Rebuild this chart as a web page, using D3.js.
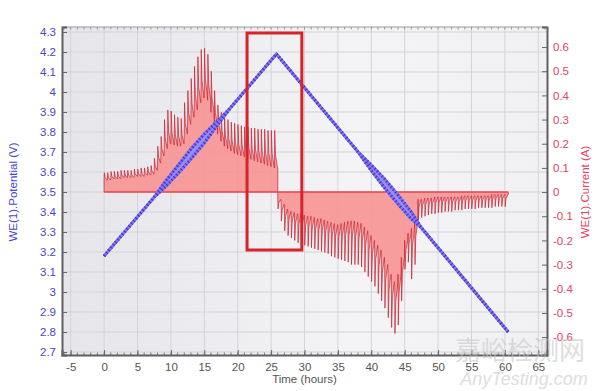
<!DOCTYPE html>
<html>
<head>
<meta charset="utf-8">
<script src="https://cdn.jsdelivr.net/npm/d3@7"></script>
<style>
  body { margin: 0; background: #fff; }
  svg { display: block; font-family: "Liberation Sans", Arial, sans-serif; }
</style>
</head>
<body>
<div></div>
<script>
// tick labels
var xTicks = [-5, 0, 5, 10, 15, 20, 25, 30, 35, 40, 45, 50, 55, 60, 65];
var leftTicks = [2.7, 2.8, 2.9, 3, 3.1, 3.2, 3.3, 3.4, 3.5, 3.6, 3.7, 3.8, 3.9, 4, 4.1, 4.2, 4.3];
var rightTicks = [-0.6, -0.5, -0.4, -0.3, -0.2, -0.1, 0, 0.1, 0.2, 0.3, 0.4, 0.5, 0.6];

// potential (V): upper / lower edge of the trace
var vTime  = [0, 7.5, 9, 11, 13, 15, 17, 19, 25.8, 38, 40, 42, 44, 46, 47.5, 60.5];
var vUpper = [3.18, 3.474, 3.545, 3.63, 3.715, 3.79, 3.856, 3.924, 4.19, 3.701, 3.635, 3.565, 3.485, 3.40, 3.321, 2.80];
var vLower = [3.18, 3.474, 3.52, 3.59, 3.665, 3.745, 3.836, 3.924, 4.19, 3.701, 3.607, 3.52, 3.44, 3.365, 3.321, 2.80];

// current (A): one pulse every half hour, base level and spike level
var chargeTimes = d3.range(0, 26, 0.5);
var chargeBase = [
  0.05, 0.05, 0.055, 0.055, 0.055, 0.06, 0.06, 0.06, 0.06, 0.065,
  0.065, 0.065, 0.07, 0.07, 0.075, 0.09, 0.12, 0.15, 0.18, 0.20,
  0.20, 0.195, 0.19, 0.20, 0.24, 0.28, 0.31, 0.34, 0.37, 0.39,
  0.40, 0.38, 0.33, 0.28, 0.24, 0.21, 0.19, 0.18, 0.17, 0.16,
  0.155, 0.15, 0.145, 0.14, 0.135, 0.13, 0.125, 0.12, 0.115, 0.11,
  0.105, 0.10];
var chargePeak = [
  0.08, 0.08, 0.085, 0.085, 0.085, 0.09, 0.09, 0.09, 0.09, 0.095,
  0.095, 0.10, 0.10, 0.105, 0.11, 0.14, 0.19, 0.23, 0.30, 0.34,
  0.335, 0.32, 0.31, 0.305, 0.37, 0.42, 0.47, 0.52, 0.56, 0.59,
  0.595, 0.57, 0.50, 0.42, 0.36, 0.33, 0.31, 0.30, 0.29, 0.285,
  0.28, 0.275, 0.27, 0.27, 0.265, 0.265, 0.26, 0.26, 0.26, 0.255,
  0.255, 0.255];

var dischargeTimes = d3.range(26, 60.5, 0.5);
var dischargeBase = [
  -0.03, -0.05, -0.07, -0.08, -0.085, -0.09, -0.09, -0.095, -0.10, -0.10,
  -0.105, -0.11, -0.11, -0.115, -0.12, -0.125, -0.13, -0.135, -0.135, -0.13,
  -0.125, -0.12, -0.12, -0.125, -0.13, -0.145, -0.16, -0.18, -0.20, -0.22,
  -0.24, -0.27, -0.30, -0.34, -0.37, -0.38, -0.34, -0.27, -0.20, -0.17,
  -0.15, -0.12, -0.03, -0.03, -0.025, -0.025, -0.025, -0.02, -0.02, -0.02,
  -0.02, -0.02, -0.02, -0.02, -0.02, -0.015, -0.015, -0.015, -0.015, -0.015,
  -0.015, -0.015, -0.015, -0.015, -0.01, -0.01, -0.01, -0.01, -0.01];
var dischargePeak = [
  -0.07, -0.12, -0.16, -0.18, -0.19, -0.20, -0.21, -0.215, -0.22, -0.225,
  -0.23, -0.235, -0.24, -0.245, -0.25, -0.255, -0.265, -0.27, -0.275, -0.28,
  -0.285, -0.29, -0.30, -0.30, -0.30, -0.31, -0.33, -0.35, -0.37, -0.39,
  -0.42, -0.45, -0.48, -0.52, -0.56, -0.585, -0.55, -0.45, -0.32, -0.29,
  -0.36, -0.30, -0.115, -0.105, -0.10, -0.095, -0.09, -0.09, -0.085, -0.085,
  -0.08, -0.08, -0.08, -0.075, -0.075, -0.075, -0.07, -0.07, -0.07, -0.07,
  -0.065, -0.065, -0.065, -0.065, -0.065, -0.06, -0.06, -0.06, -0.06];

// highlighted window (time, potential)
var boxTime = [21.4, 29.6];
var boxPot = [3.21, 4.295];

var margin = {top: 27, right: 53, bottom: 36, left: 62},
    width = 600 - margin.left - margin.right,
    height = 391 - margin.top - margin.bottom;

var x = d3.scaleLinear().domain([-6.3, 66.3]).range([0, width]);
var yL = d3.scaleLinear().domain([2.685, 4.325]).range([height, 0]);
var yR = d3.scaleLinear().domain([-0.674, 0.683]).range([height, 0]);

var root = d3.select("body").select("div").append("svg")
    .attr("width", 600)
    .attr("height", 391);

var defs = root.append("defs");
var grad = defs.append("linearGradient").attr("id", "bg");
grad.append("stop").attr("offset", "0%").attr("stop-color", "#e5e5ea");
grad.append("stop").attr("offset", "60%").attr("stop-color", "#f4f4f6");
grad.append("stop").attr("offset", "100%").attr("stop-color", "#f1f1f4");

var svg = root.append("g")
    .attr("transform", "translate(" + margin.left + "," + margin.top + ")");

// watermark (behind the axis labels)
root.append("text")
    .text("嘉峪检测网")
    .attr("x", 520).attr("y", 360)
    .style("text-anchor", "middle")
    .style("font-family", "Noto Sans CJK SC")
    .style("font-size", "26px")
    .style("fill", "#c4c4c4")
    .style("opacity", 0.55);
root.append("text")
    .text("AnyTesting.com")
    .attr("x", 524).attr("y", 385)
    .style("text-anchor", "middle")
    .style("font-style", "italic")
    .style("font-size", "18px")
    .style("fill", "#c4c4c4")
    .style("opacity", 0.55);

// plot background
svg.append("rect")
    .attr("width", width)
    .attr("height", height)
    .style("fill", "url(#bg)");

// grid
svg.append("g").selectAll("line")
    .data(xTicks)
    .enter().append("line")
    .attr("x1", function(d) { return x(d); })
    .attr("x2", function(d) { return x(d); })
    .attr("y1", 0).attr("y2", height)
    .style("stroke", "#d3d3d9");
svg.append("g").selectAll("line")
    .data(leftTicks)
    .enter().append("line")
    .attr("y1", function(d) { return yL(d); })
    .attr("y2", function(d) { return yL(d); })
    .attr("x1", 0).attr("x2", width)
    .style("stroke", "#d3d3d9");

// current trace
function pulses(times, base, peak, tEnd) {
    var pts = [[times[0], 0]];
    times.forEach(function(t, i) {
        pts.push([t, base[i]]);
        pts.push([t + 0.04, peak[i]]);
        pts.push([t + 0.16, base[i] + (peak[i] - base[i]) * 0.35]);
        pts.push([t + 0.46, base[i]]);
    });
    pts.push([tEnd, base[base.length - 1]]);
    pts.push([tEnd, 0]);
    return pts;
}
var charge = pulses(chargeTimes, chargeBase, chargePeak, 26);
var discharge = pulses(dischargeTimes, dischargeBase, dischargePeak, 60.5);

var currArea = d3.area()
    .x(function(d) { return x(d[0]); })
    .y0(yR(0))
    .y1(function(d) { return yR(d[1]); });
var currLine = d3.line()
    .x(function(d) { return x(d[0]); })
    .y(function(d) { return yR(d[1]); });

[charge, discharge].forEach(function(s) {
    svg.append("path").datum(s)
        .attr("d", currArea)
        .style("fill", "#f79393")
        .style("opacity", 0.9);
    svg.append("path").datum(s)
        .attr("d", currLine)
        .style("fill", "none")
        .style("stroke", "#c91f2e")
        .style("stroke-width", 0.7);
});

svg.append("line")
    .attr("x1", x(0)).attr("x2", x(60.5))
    .attr("y1", yR(0)).attr("y2", yR(0))
    .style("stroke", "#e8404c")
    .style("stroke-width", 1.5);

// potential trace
var pot = vTime.map(function(t, i) { return {t: t, hi: vUpper[i], lo: vLower[i]}; });
svg.append("path").datum(pot)
    .attr("d", d3.area()
        .x(function(d) { return x(d.t); })
        .y0(function(d) { return yL(d.lo); })
        .y1(function(d) { return yL(d.hi); }))
    .style("fill", "#9a8cf5");
["hi", "lo"].forEach(function(k) {
    var ln = d3.line()
        .x(function(d) { return x(d.t); })
        .y(function(d) { return yL(d[k]); });
    svg.append("path").datum(pot)
        .attr("d", ln)
        .style("fill", "none")
        .style("stroke", "#8273f2")
        .style("stroke-width", 3);
    svg.append("path").datum(pot)
        .attr("d", ln)
        .style("fill", "none")
        .style("stroke", "#4335c4")
        .style("stroke-width", 3)
        .style("stroke-dasharray", "1.2,2.3");
});

// red box
svg.append("rect")
    .attr("x", x(boxTime[0]))
    .attr("y", yL(boxPot[1]))
    .attr("width", x(boxTime[1]) - x(boxTime[0]))
    .attr("height", yL(boxPot[0]) - yL(boxPot[1]))
    .style("fill", "none")
    .style("stroke", "#d8232a")
    .style("stroke-width", 3);

// minor ticks top / bottom
var minor = d3.range(-6, 67, 1);
svg.append("g").selectAll("line")
    .data(minor)
    .enter().append("line")
    .attr("x1", function(d) { return x(d); })
    .attr("x2", function(d) { return x(d); })
    .attr("y1", height).attr("y2", height - 2.5)
    .style("stroke", "#777");
svg.append("g").selectAll("line")
    .data(minor)
    .enter().append("line")
    .attr("x1", function(d) { return x(d); })
    .attr("x2", function(d) { return x(d); })
    .attr("y1", 0).attr("y2", 2.5)
    .style("stroke", "#999");

// top frame
svg.append("line")
    .attr("x1", 0).attr("x2", width)
    .attr("y1", 0).attr("y2", 0)
    .style("stroke", "#9a9aa0");

// axes
var xAxis = svg.append("g")
    .attr("transform", "translate(0," + height + ")")
    .call(d3.axisBottom(x).tickValues(xTicks).tickSize(-5).tickPadding(8).tickFormat(function(d) { return String(d); }));
var lAxis = svg.append("g")
    .call(d3.axisLeft(yL).tickValues(leftTicks).tickSize(-5).tickPadding(6).tickFormat(function(d) { return String(d); }));
var rAxis = svg.append("g")
    .attr("transform", "translate(" + width + ",0)")
    .call(d3.axisRight(yR).tickValues(rightTicks).tickSize(-5).tickPadding(6).tickFormat(function(d) { return String(d); }));

[xAxis, lAxis, rAxis].forEach(function(a) {
    a.select(".domain").style("stroke", "#5e5e64").style("stroke-width", 2);
    a.selectAll(".tick line").style("stroke", "#666");
    a.selectAll("text").style("font-size", "11.5px").style("font-family", "Liberation Sans, Arial, sans-serif");
});
xAxis.selectAll("text").style("fill", "#555");
lAxis.selectAll("text").style("fill", "#4a44cc");
rAxis.selectAll("text").style("fill", "#e0445e");

// axis titles
svg.append("text")
    .text("Time (hours)")
    .attr("x", width / 2)
    .attr("y", height + 28)
    .style("text-anchor", "middle")
    .style("font-size", "11.5px")
    .style("fill", "#555");
svg.append("text")
    .text("WE(1).Potential (V)")
    .attr("transform", "rotate(-90)")
    .attr("x", -(192 - margin.top))
    .attr("y", -45)
    .style("text-anchor", "middle")
    .style("font-size", "11.5px")
    .style("fill", "#4a44cc");
svg.append("text")
    .text("WE(1).Current (A)")
    .attr("transform", "rotate(-90)")
    .attr("x", -(192 - margin.top))
    .attr("y", width + 42)
    .style("text-anchor", "middle")
    .style("font-size", "11.5px")
    .style("fill", "#e0445e");
</script>
</body>
</html>
